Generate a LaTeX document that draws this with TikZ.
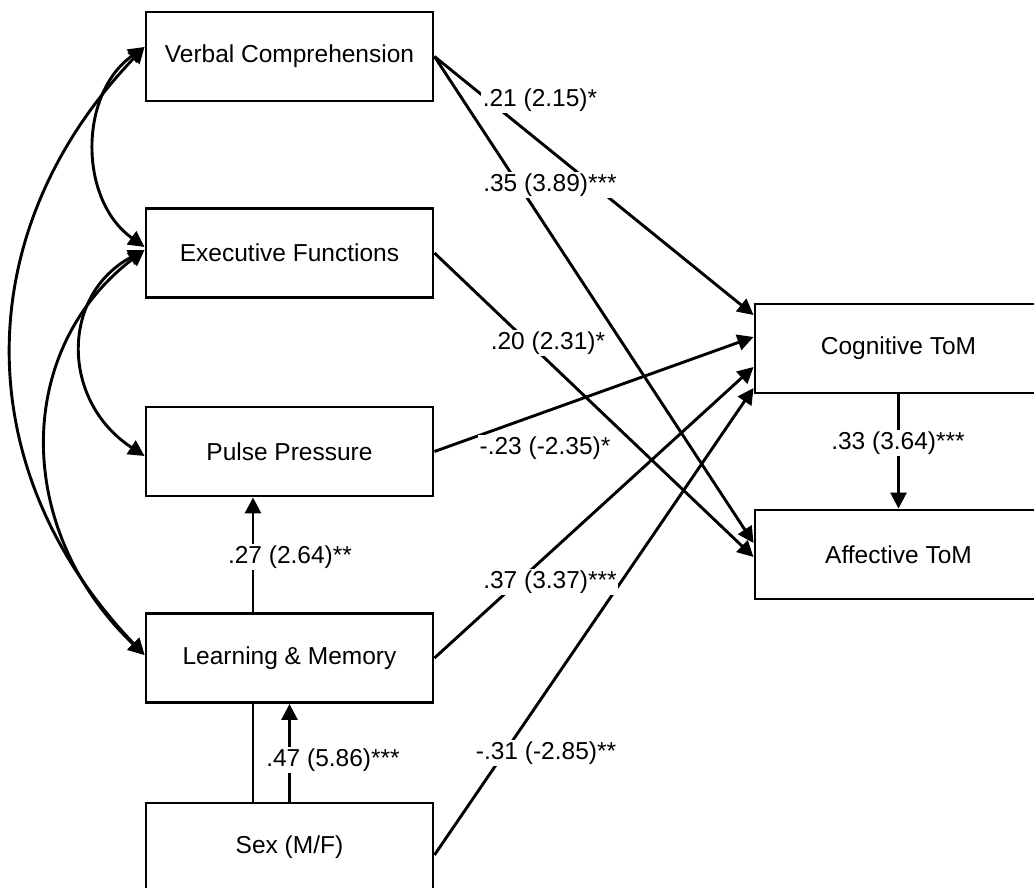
\documentclass[tikz,border=0pt]{standalone}
\usepackage{fontspec}
\setmainfont{Liberation Sans}
\usetikzlibrary{arrows.meta}

\begin{document}
\begin{tikzpicture}[x=1pt, y=-1pt, line width=2.9pt,
		font=\fontsize{24.5}{29}\selectfont,
		box/.style={draw, minimum width=287pt, minimum height=89pt, inner sep=0pt},
		coef/.style={fill=white, inner sep=1.5pt},
		tip/.style={-{Triangle[length=16pt,width=16pt]}},
		corr/.style={{Triangle[length=16pt,width=16pt]}-{Triangle[length=16pt,width=16pt]}}]
		\useasboundingbox (0,0) rectangle (1034,888);

		% --- predictor boxes (left column) ---
		\node[box] (vc)  at (289.5,56.5)  {Verbal Comprehension};
		\node[box] (ef)  at (289.5,253)   {Executive Functions};
		\node[box] (pp)  at (289.5,451.5) {Pulse Pressure};
		\node[box] (lm)  at (289.5,658)   {Learning \& Memory};
		\node[box] (sex) at (289.5,847.5) {Sex (M/F)};

		% --- outcome boxes (right column) ---
		\node[box] (cog) at (898.5,348.5) {Cognitive ToM};
		\node[box] (aff) at (898.5,554.5) {Affective ToM};

		% --- correlations between predictors (curved, two-headed) ---
		\draw[corr] ([yshift=9.5pt]vc.west) .. controls +(-66,47) and +(-66,-47) .. ([yshift=6pt]ef.west);
		\draw[corr] ([yshift=3pt]ef.west) .. controls +(-84,45) and +(-84,-55) .. ([yshift=-4.5pt]pp.west);
		\draw[corr] ([yshift=3pt]ef.west) .. controls +(-131,100) and +(-131,-125) .. ([yshift=3pt]lm.west);
		\draw[corr] ([yshift=9.5pt]vc.west) .. controls +(-177,185) and +(-177,-185) .. ([yshift=3pt]lm.west);

		% --- paths to the ToM outcomes ---
		\draw[tip] (vc.east) -- ([yshift=33.5pt]cog.west);
		\draw[tip] (vc.east) -- ([yshift=11.5pt]aff.west);
		\draw[tip] (ef.east) -- ([yshift=-2.5pt]aff.west);
		\draw[tip] (pp.east) -- ([yshift=11.5pt]cog.west);
		\draw[tip] (lm.east) -- ([yshift=-18.5pt]cog.west);
		\draw[tip] ([yshift=-7.5pt]sex.east) -- ([yshift=-39.5pt]cog.west);
		\draw[tip] (cog.south) -- (aff.north);

		% --- vertical paths within the left column ---
		\draw[tip] ([xshift=-36.5pt]lm.north) -- ([xshift=-36.5pt]pp.south);
		\draw ([xshift=-36.5pt]sex.north) -- ([xshift=-36.5pt]lm.south);
		\draw[tip] (sex.north) -- (lm.south);

		% --- path coefficients (white boxes over the lines) ---
		\node[coef] (kVC1) at (540,100) {.21 (2.15)*};
		\node[coef] (kVC2) at (550,185) {.35 (3.89)***};
		\node[coef] (kEF)  at (548,343) {.20 (2.31)*};
		\node[coef] (kPP)  at (545,448) {-.23 (-2.35)*};
		\node[coef] (kLM)  at (550,582) {.37 (3.37)***};
		\node[coef] (kSX)  at (546,753) {-.31 (-2.85)**};
		\node[coef] (kLP)  at (290,557) {.27 (2.64)**};
		\node[coef] (kSL)  at (333,760) {.47 (5.86)***};
		\node[coef] (kCA)  at (898,443) {.33 (3.64)***};
	\end{tikzpicture}
\end{document}
